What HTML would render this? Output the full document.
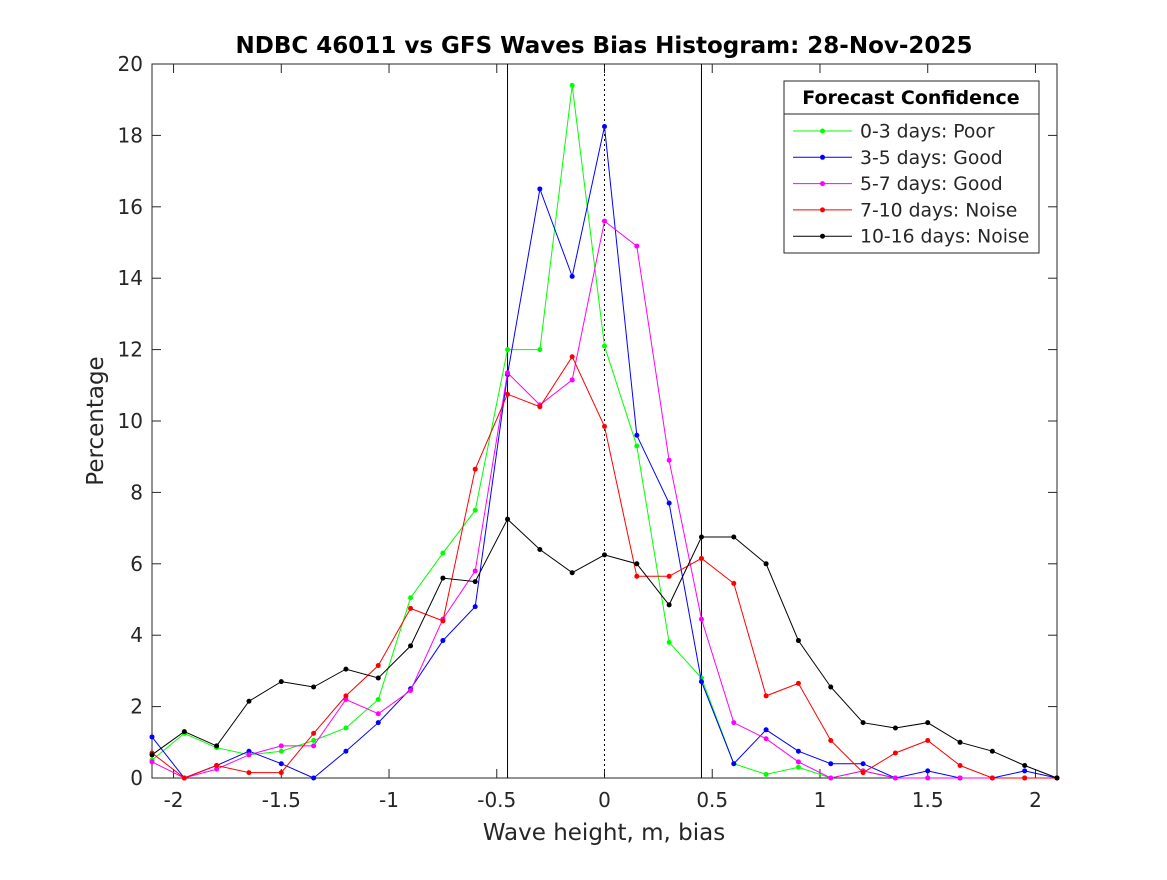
<!DOCTYPE html>
<html><head><meta charset="utf-8"><style>
body{margin:0;background:#fff;}
text{font-family:"DejaVu Sans","Liberation Sans",sans-serif;fill:#262626;}
</style></head><body>
<svg id="chart" width="1167" height="875" viewBox="0 0 1167 875" xmlns="http://www.w3.org/2000/svg">
<rect width="1167" height="875" fill="#fff"/>
<text x="604" y="53" text-anchor="middle" font-size="23" font-weight="bold" style="fill:#000">NDBC 46011 vs GFS Waves Bias Histogram: 28-Nov-2025</text>
<text transform="translate(103,421) rotate(-90)" text-anchor="middle" font-size="23">Percentage</text>
<text x="604" y="840" text-anchor="middle" font-size="23">Wave height, m, bias</text>
<g id="axes"></g>
<g id="series"></g>
<g id="legend"></g>
</svg>
<script>
const binCenters=[-2.1,-1.95,-1.8,-1.65,-1.5,-1.35,-1.2,-1.05,-0.9,-0.75,-0.6,-0.45,-0.3,-0.15,0,0.15,0.3,0.45,0.6,0.75,0.9,1.05,1.2,1.35,1.5,1.65,1.8,1.95,2.1];
const days03=[0.5,1.25,0.85,0.65,0.75,1.05,1.4,2.2,5.05,6.3,7.5,12,12,19.4,12.1,9.3,3.8,2.8,0.4,0.1,0.3,0,0.2,0,0,0,0,0,0];
const days35=[1.15,0,0.35,0.75,0.4,0,0.75,1.55,2.5,3.85,4.8,11.3,16.5,14.05,18.25,9.6,7.7,2.7,0.4,1.35,0.75,0.4,0.4,0,0.2,0,0,0.2,0];
const days57=[0.45,0,0.25,0.65,0.9,0.9,2.2,1.8,2.45,4.45,5.8,11.35,10.45,11.15,15.6,14.9,8.9,4.45,1.55,1.1,0.45,0,0.2,0,0,0,0,0,0];
const days710=[0.7,0,0.35,0.15,0.15,1.25,2.3,3.15,4.75,4.4,8.65,10.75,10.4,11.8,9.85,5.65,5.65,6.15,5.45,2.3,2.65,1.05,0.15,0.7,1.05,0.35,0,0,0];
const days1016=[0.65,1.3,0.9,2.15,2.7,2.55,3.05,2.8,3.7,5.6,5.5,7.25,6.4,5.75,6.25,6,4.85,6.75,6.75,6,3.85,2.55,1.55,1.4,1.55,1,0.75,0.35,0];
const seriesNames=["0-3 days: Poor","3-5 days: Good","5-7 days: Good","7-10 days: Noise","10-16 days: Noise"];
const seriesColors=["#00ff00","#0000ff","#ff00ff","#ff0000","#000000"];
const xTicks=[-2,-1.5,-1,-0.5,0,0.5,1,1.5,2];
const xTickLabels=["-2","-1.5","-1","-0.5","0","0.5","1","1.5","2"];
const yTicks=[0,2,4,6,8,10,12,14,16,18,20];
const confLines=[-0.45,0.45];
const L=152,R=1057,T=64,B=778,XMIN=-2.1,XMAX=2.1,YMIN=0,YMAX=20;
const xs=v=>L+(v-XMIN)/(XMAX-XMIN)*(R-L);
const ys=v=>B-(v-YMIN)/(YMAX-YMIN)*(B-T);
const NS="http://www.w3.org/2000/svg";
function mk(tag,attrs,parent){const e=document.createElementNS(NS,tag);for(const k in attrs)e.setAttribute(k,attrs[k]);parent.appendChild(e);return e;}
const ax=document.getElementById('axes');
let r=mk('rect',{x:L,y:T,width:R-L,height:B-T,fill:'none',stroke:'#262626','stroke-width':1},ax);


xTicks.forEach((t,i)=>{
 const x=xs(t);
 mk('line',{x1:x,y1:B,x2:x,y2:B-9,stroke:'#262626'},ax);
 mk('line',{x1:x,y1:T,x2:x,y2:T+9,stroke:'#262626'},ax);
 const tx=mk('text',{x:x,y:B+29,'text-anchor':'middle','font-size':20},ax);
 tx.textContent=xTickLabels[i];
 
 
});
yTicks.forEach(t=>{
 const y=ys(t);
 mk('line',{x1:L,y1:y,x2:L+9,y2:y,stroke:'#262626'},ax);
 mk('line',{x1:R,y1:y,x2:R-9,y2:y,stroke:'#262626'},ax);
 const tx=mk('text',{x:L-9,y:y+7,'text-anchor':'end','font-size':20},ax);
 tx.textContent=String(t);
 
 
});
confLines.forEach(c=>{
 const l=mk('line',{x1:xs(c),y1:T,x2:xs(c),y2:B,stroke:'#000','stroke-width':1},ax);
 
 
});
const zl=mk('line',{x1:xs(0),y1:T,x2:xs(0),y2:B,stroke:'#000','stroke-width':1,'stroke-dasharray':'2,3'},ax);


const sg=document.getElementById('series');
const allSeries=[days03,days35,days57,days710,days1016];
allSeries.forEach((vals,si)=>{
 const g=mk('g',{},sg);
 
 
 const pts=vals.map((v,i)=>xs(binCenters[i]).toFixed(1)+','+ys(v).toFixed(1)).join(' ');
 const pl=mk('polyline',{points:pts,fill:'none',stroke:seriesColors[si],'stroke-width':1},g);
 
 
 vals.forEach((v,i)=>{
  const c=mk('circle',{cx:xs(binCenters[i]),cy:ys(v),r:2.5,fill:seriesColors[si]},g);
  
  
 });
});
const lg=document.getElementById('legend');
const lb=mk('rect',{x:784,y:81,width:255,height:172,fill:'#fff',stroke:'#262626'},lg);


mk('line',{x1:784,y1:114,x2:1039,y2:114,stroke:'#262626'},lg);
const lt=mk('text',{x:911,y:104,'text-anchor':'middle','font-size':19,'font-weight':'bold',style:'fill:#000'},lg);
lt.textContent='Forecast Confidence';


seriesNames.forEach((n,i)=>{
 const y=131+i*26.3;
 const e=mk('g',{},lg);
 
 
 mk('line',{x1:793,y1:y,x2:852,y2:y,stroke:seriesColors[i]},e);
 mk('circle',{cx:822.5,cy:y,r:2.5,fill:seriesColors[i]},e);
 const t=mk('text',{x:860,y:y+6.5,'font-size':18.8},e);
 t.textContent=n;
});
</script>
</body></html>
